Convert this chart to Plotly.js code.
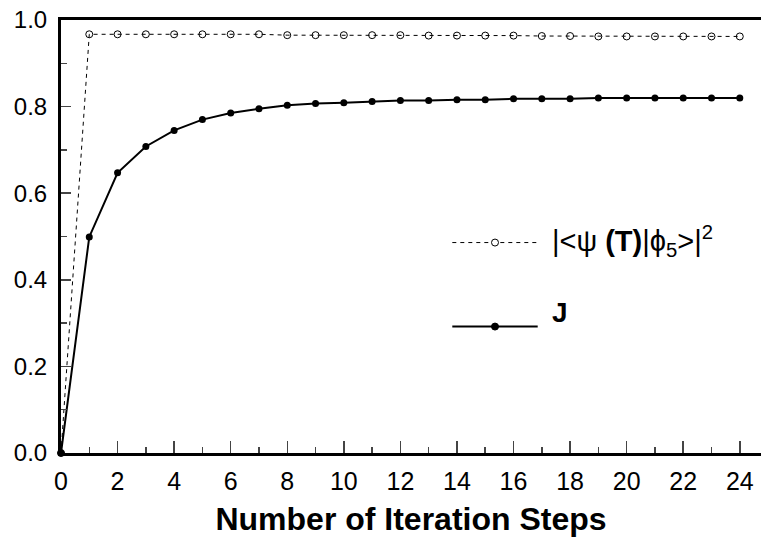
<!DOCTYPE html>
<html><head><meta charset="utf-8">
<script src="https://cdn.plot.ly/plotly-3.0.1.min.js"></script>
<style>html,body{margin:0;padding:0;background:#fff}#c{width:761px;height:538px}</style>
</head><body><div id="c"></div>
<script>
const steps = [0,1,2,3,4,5,6,7,8,9,10,11,12,13,14,15,16,17,18,19,20,21,22,23,24];
const overlap = [0,0.967,0.967,0.967,0.967,0.967,0.967,0.967,0.965,0.965,0.965,0.965,0.965,0.964,0.964,0.964,0.964,0.963,0.963,0.962,0.962,0.962,0.962,0.962,0.962];
const J = [0,0.499,0.647,0.708,0.745,0.770,0.785,0.795,0.803,0.807,0.809,0.812,0.814,0.814,0.816,0.816,0.818,0.818,0.818,0.820,0.820,0.820,0.820,0.820,0.820];
const xTicks = [0,2,4,6,8,10,12,14,16,18,20,22,24];
const yTicks = [0,0.2,0.4,0.6,0.8,1.0];
const legendLabels = ['|&lt;\u03c8 <b>(T)</b>|\u03d5<sub>5</sub>&gt;|<sup>2</sup>', '<b>J</b>'];

const traces = [
  {x: steps, y: overlap, mode: 'lines+markers', line: {color:'#000', width:1, dash:'4px,4px'},
   marker: {symbol:'circle-open', size:7, color:'#000', line:{width:1}}, cliponaxis:false},
  {x: steps, y: J, mode: 'lines+markers', line: {color:'#000', width:2},
   marker: {symbol:'circle', size:7, color:'#000'}, cliponaxis:false}
];
const font = '"Liberation Sans", Arial, sans-serif';
const layout = {
  width:761, height:538, showlegend:false,
  margin:{l:61, r:0, t:20, b:84.5},
  paper_bgcolor:'#fff', plot_bgcolor:'#fff',
  font:{family:font, color:'#000'},
  xaxis:{range:[0,24.75], tickvals:xTicks, ticktext:xTicks.map(String), ticks:'inside', ticklen:12, tickwidth:1.5,
    minor:{dtick:1, ticks:'inside', ticklen:6, tickwidth:1.5}, showgrid:false, zeroline:false,
    showline:true, linewidth:3, linecolor:'#000', mirror:true, tickfont:{size:25}, ticklabelstandoff:4,
    title:{text:'<b>Number of Iteration Steps</b>', font:{size:32}, standoff:14}},
  yaxis:{range:[0,1.0], tickvals:yTicks, ticktext:yTicks.map(v=>v.toFixed(1)), ticks:'inside', ticklen:10, tickwidth:1.5,
    minor:{dtick:0.1, ticks:'inside', ticklen:6, tickwidth:1.5}, showgrid:false, zeroline:false,
    showline:true, linewidth:3, linecolor:'#000', tickfont:{size:24}, ticklabelstandoff:6},
  shapes:[
    {type:'line', xref:'paper', yref:'paper', x0:0.559, x1:0.681, y0:0.486, y1:0.486, line:{color:'#000', width:1, dash:'4px,4px'}},
    {type:'circle', xref:'paper', yref:'paper', xsizemode:'pixel', ysizemode:'pixel', xanchor:0.62, yanchor:0.486, x0:-3.5, x1:3.5, y0:-3.5, y1:3.5, fillcolor:'#fff', line:{color:'#000', width:1}},
    {type:'line', xref:'paper', yref:'paper', x0:0.559, x1:0.681, y0:0.292, y1:0.292, line:{color:'#000', width:2}},
    {type:'circle', xref:'paper', yref:'paper', xsizemode:'pixel', ysizemode:'pixel', xanchor:0.62, yanchor:0.292, x0:-3.5, x1:3.5, y0:-3.5, y1:3.5, fillcolor:'#000', line:{color:'#000', width:1}}
  ],
  annotations:[
    {xref:'paper', yref:'paper', x:0.699, y:0.49, xanchor:'left', yanchor:'middle', text:legendLabels[0], showarrow:false, font:{size:29}},
    {xref:'paper', yref:'paper', x:0.699, y:0.325, xanchor:'left', yanchor:'middle', text:legendLabels[1], showarrow:false, font:{size:28}}
  ]
};
Plotly.newPlot('c', traces, layout, {displayModeBar:false, staticPlot:true});
</script></body></html>
